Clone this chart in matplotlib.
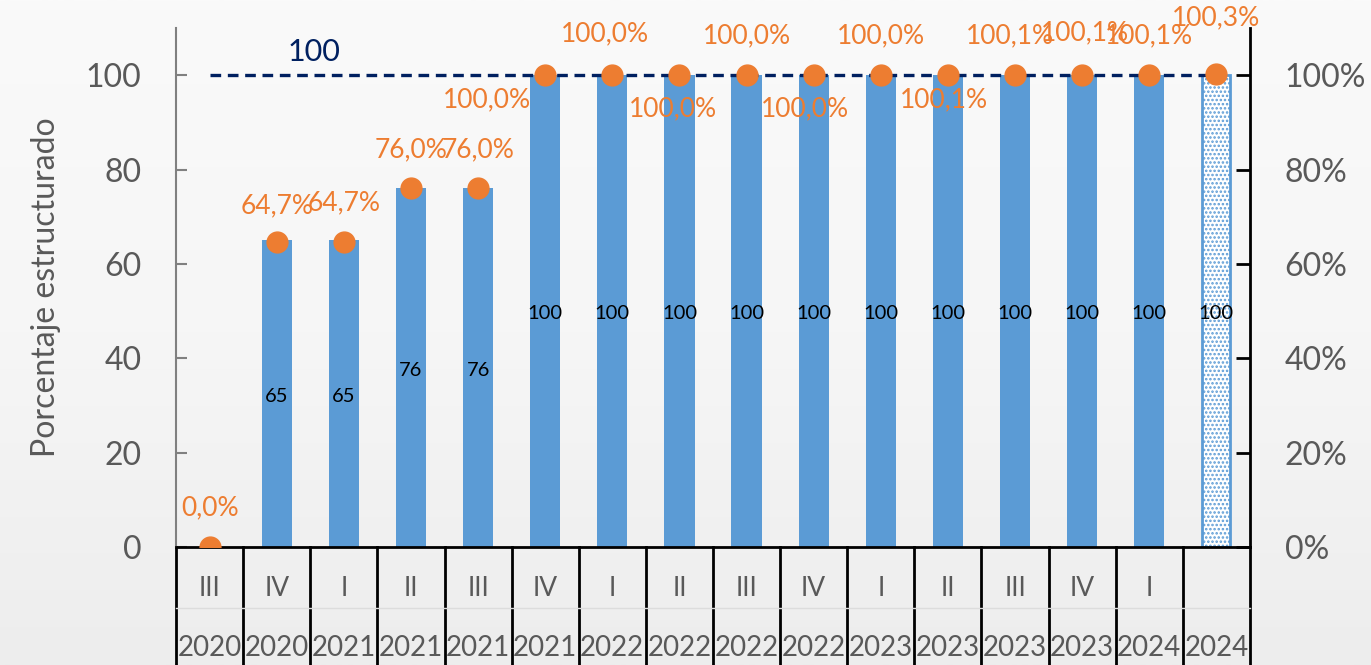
import matplotlib.pyplot as plt
import numpy as np

quarters = ['III', 'IV', 'I', 'II', 'III', 'IV', 'I', 'II', 'III', 'IV',
            'I', 'II', 'III', 'IV', 'I', '']
years = ['2020', '2020', '2021', '2021', '2021', '2021', '2022', '2022',
         '2022', '2022', '2023', '2023', '2023', '2023', '2024', '2024']
bar_values = [0, 65, 65, 76, 76, 100, 100, 100, 100, 100, 100, 100, 100, 100, 100, 100]
pct_values = [0.0, 64.7, 64.7, 76.0, 76.0, 100.0, 100.0, 100.0, 100.0, 100.0,
              100.0, 100.1, 100.1, 100.1, 100.1, 100.3]
projected = [False] * 15 + [True]
target = 100

# label offsets in points (dx, dy) for the orange percent labels
label_offsets = [(0, 28), (0, 26), (0, 28), (0, 28), (0, 28), (-42, -18),
                 (-5, 30), (-5, -24), (0, 28), (-6, -24), (0, 28), (-3, -18),
                 (-4, 28), (2, 30), (0, 28), (0, 40)]

blue = '#5B9BD5'
orange = '#ED7D31'
navy = '#002060'
gray = '#595959'

plt.rcParams['font.family'] = ['Lato', 'DejaVu Sans']

fig = plt.figure(figsize=(13.71, 6.65), dpi=100)
fig.patch.set_facecolor('#f4f4f4')

# soft background gradient
bg = fig.add_axes([0, 0, 1, 1], zorder=-10)
grad = np.linspace(0, 1, 256).reshape(-1, 1)
bg.imshow(grad, aspect='auto', cmap=plt.matplotlib.colors.LinearSegmentedColormap.from_list(
    'bg', ['#fafafa', '#f6f6f6', '#ededed']), extent=[0, 1, 0, 1])
bg.axis('off')

ax = fig.add_axes([0.1284, 0.1774, 0.7833, 0.7805])
ax.set_facecolor('none')
x = np.arange(len(quarters))

for i, (v, proj) in enumerate(zip(bar_values, projected)):
    if v == 0:
        continue
    if proj:
        plt.rcParams['hatch.color'] = blue
        plt.rcParams['hatch.linewidth'] = 1.2
        ax.bar(x[i], v, width=0.42, facecolor='white', edgecolor=blue,
               linewidth=2, hatch='....', zorder=2)
    else:
        ax.bar(x[i], v, width=0.45, color=blue, zorder=2)
    ax.text(x[i], v / 2 - 0.6, str(v), ha='center', va='center', fontsize=14.5,
            color='black', zorder=4)

ax.plot([x[0], x[-1]], [target, target], ls=(0, (3.2, 2)), color=navy, lw=2.4, zorder=3)
ax.text(x[1] + 0.55, target + 2, str(target), color=navy, fontsize=22,
        ha='center', va='bottom')

ax.plot(x, pct_values, 'o', color=orange, markersize=15, zorder=5)
for i, p in enumerate(pct_values):
    lbl = f'{p:.1f}'.replace('.', ',') + '%'
    ax.annotate(lbl, (x[i], p), xytext=label_offsets[i], textcoords='offset points',
                ha='center', va='center', fontsize=19, color=orange, zorder=6)

ax.set_xlim(-0.5, len(quarters) - 0.5)
ax.set_ylim(0, 110)
ax.set_yticks(range(0, 101, 20))
ax.tick_params(axis='y', direction='in', length=8, width=1.5, labelsize=23,
               labelcolor=gray, color='#808080', pad=25)
ax.set_xticks([])
ax.spines['top'].set_visible(False)
ax.spines['right'].set_visible(False)
ax.spines['left'].set_color('#808080')
ax.spines['left'].set_linewidth(1.5)
ax.spines['bottom'].set_color('black')
ax.spines['bottom'].set_linewidth(2)
ax.set_ylabel('Porcentaje estructurado', fontsize=23, color=gray, labelpad=18)

ax2 = ax.twinx()
ax2.set_ylim(0, 1.1)
ax2.set_yticks(np.arange(0, 1.01, 0.2))
ax2.set_yticklabels([f'{int(round(t * 100))}%' for t in np.arange(0, 1.01, 0.2)])
ax2.tick_params(axis='y', direction='in', length=10, width=2, labelsize=23,
                labelcolor=gray, color='black', pad=25)
for s in ['top', 'left', 'bottom']:
    ax2.spines[s].set_visible(False)
ax2.spines['right'].set_color('black')
ax2.spines['right'].set_linewidth(2)

# two-level category table below the axis
tr = ax.get_xaxis_transform()
bottom = -0.23
for b in np.arange(-0.5, len(quarters), 1.0):
    ax.plot([b, b], [0, bottom], color='black', lw=2, transform=tr, clip_on=False)
ax.plot([-0.5, len(quarters) - 0.5], [-0.118, -0.118], color='#dcdcdc', lw=1,
        transform=tr, clip_on=False)
for i in range(len(quarters)):
    ax.text(x[i], -0.079, quarters[i], transform=tr, ha='center', va='center',
            fontsize=19, color=gray)
    ax.text(x[i], -0.195, years[i], transform=tr, ha='center', va='center',
            fontsize=20, color=gray)

fig.savefig('out.png', dpi=100, facecolor=fig.get_facecolor())
